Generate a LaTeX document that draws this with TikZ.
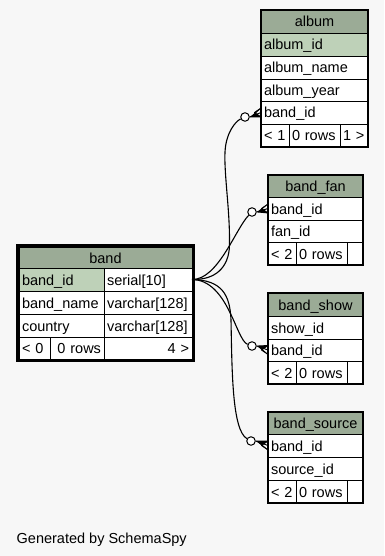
\documentclass[tikz,border=0pt]{standalone}
\usepackage{fontspec}
\setmainfont{Liberation Sans}
\usetikzlibrary{calc}
\definecolor{canvas}{HTML}{F7F7F7}
\definecolor{headgreen}{HTML}{9BAB96}
\definecolor{keygreen}{HTML}{BED1B8}
\newcommand\tabfont{\fontsize{14.5}{17}\selectfont}
% \tcell{style}{name}{x}{y}{width}{height}{text}
\newcommand\tcell[7]{\pgfmathsetmacro\tcw{#5-6}\node[#1, text width=\tcw pt, minimum height=#6pt] (#2) at (#3,#4) {#7};}
% crow's foot between the optional circle and the referencing column
\newcommand\crowfoot[2]{%
  \filldraw[crowline] ($(#1.east)+(1,0)$) -- ($(#2.west)+(0,-4.5)$)
    -- ($(#2.west)+(-6.5,0)$) -- ($(#2.west)+(0,4.5)$) -- cycle;
  \draw[crowline] (#1.east) -- (#2.west);}
\tikzset{
  cell/.style={draw=black, line width=0.9pt, fill=white, anchor=north west,
    inner xsep=3pt, inner ysep=0pt, outer sep=0pt, text height=12pt,
    text depth=1pt, align=left, font=\tabfont},
  headcell/.style={cell, fill=headgreen, align=center},
  keycell/.style={cell, fill=keygreen},
  rcell/.style={cell, align=right},
  frame/.style={draw=black, line width=1.4pt},
  selframe/.style={draw=black, line width=3pt},
  rel/.style={draw=black, line width=1.1pt},
  crowline/.style={draw=black, fill=black, line width=0.9pt, line join=round},
  optional/.style={circle, draw=black, fill=white, line width=1pt,
    minimum size=8.5pt, inner sep=0pt},
}
\begin{document}
\begin{tikzpicture}[x=1pt, y=-1pt]
\useasboundingbox[fill=canvas] (0,0) rectangle (384,556);

% ---------- band (selected table) ----------
\tcell{headcell}{band-head}{19}{247}{173}{21}{band}
\tcell{keycell}{band-band_id}{19}{268}{85}{23}{band\_id}
\tcell{cell}{band-band_id-type}{104}{268}{88}{23}{serial[10]}
\tcell{cell}{band-band_name}{19}{291}{85}{23}{band\_name}
\tcell{cell}{band-band_name-type}{104}{291}{88}{23}{varchar[128]}
\tcell{cell}{band-country}{19}{314}{85}{23}{country}
\tcell{cell}{band-country-type}{104}{314}{88}{23}{varchar[128]}
\tcell{cell}{band-parents}{19}{337}{31}{22}{< 0}
\tcell{rcell}{band-rows}{50}{337}{54}{22}{0 rows}
\tcell{rcell}{band-children}{104}{337}{88}{22}{4 >}

% ---------- optional markers ----------
\node[optional] (album-opt) at (245,117) {};
\node[optional] (band_fan-opt) at (252,212) {};
\node[optional] (band_show-opt) at (252,346) {};
\node[optional] (band_source-opt) at (251,441) {};

% ---------- relationships ----------
\draw[rel] (band-band_id-type.east) .. controls (215,280) and (229,268) .. (229.5,245)
  .. controls (230,210) and (224,175) .. (225,152)
  .. controls (226,132) and (236,121) .. (album-opt);
\draw[rel] (band-band_id-type.east) .. controls (218,280) and (236,228) .. (band_fan-opt);
\draw[rel] (band-band_id-type.east) .. controls (228,280) and (236,340) .. (band_show-opt);
\draw[rel] (band-band_id-type.east) .. controls (222,280) and (230,295) .. (231,320)
  .. controls (232,370) and (232,430) .. (band_source-opt);

\draw[selframe] ($(band-head.north west)+(-1.5,-1.5)$) rectangle ($(band-children.south east)+(1.5,1.5)$);

% ---------- album ----------
\tcell{headcell}{album-head}{261}{10}{107}{23}{album}
\tcell{keycell}{album-album_id}{261}{33}{107}{23}{album\_id}
\tcell{cell}{album-album_name}{261}{56}{107}{23}{album\_name}
\tcell{cell}{album-album_year}{261}{79}{107}{22}{album\_year}
\tcell{cell}{album-band_id}{261}{101}{107}{23}{band\_id}
\tcell{cell}{album-parents}{261}{124}{28}{23}{< 1}
\tcell{cell}{album-rows}{289}{124}{51}{23}{0 rows}
\tcell{cell}{album-children}{340}{124}{28}{23}{1 >}
\draw[frame] (album-head.north west) rectangle (album-children.south east);

% ---------- band_fan ----------
\tcell{headcell}{band_fan-head}{268}{175}{95}{22}{band\_fan}
\tcell{cell}{band_fan-band_id}{268}{197}{95}{23}{band\_id}
\tcell{cell}{band_fan-fan_id}{268}{220}{95}{22}{fan\_id}
\tcell{cell}{band_fan-parents}{268}{242}{28}{23}{< 2}
\tcell{cell}{band_fan-rows}{296}{242}{51}{23}{0 rows}
\tcell{cell}{band_fan-children}{347}{242}{16}{23}{}
\draw[frame] (band_fan-head.north west) rectangle (band_fan-children.south east);

% ---------- band_show ----------
\tcell{headcell}{band_show-head}{268}{293}{95}{23}{band\_show}
\tcell{cell}{band_show-show_id}{268}{316}{95}{23}{show\_id}
\tcell{cell}{band_show-band_id}{268}{339}{95}{22}{band\_id}
\tcell{cell}{band_show-parents}{268}{361}{28}{23}{< 2}
\tcell{cell}{band_show-rows}{296}{361}{51}{23}{0 rows}
\tcell{cell}{band_show-children}{347}{361}{16}{23}{}
\draw[frame] (band_show-head.north west) rectangle (band_show-children.south east);

% ---------- band_source ----------
\tcell{headcell}{band_source-head}{268}{412}{95}{22}{band\_source}
\tcell{cell}{band_source-band_id}{268}{434}{95}{23}{band\_id}
\tcell{cell}{band_source-source_id}{268}{457}{95}{23}{source\_id}
\tcell{cell}{band_source-parents}{268}{480}{28}{23}{< 2}
\tcell{cell}{band_source-rows}{296}{480}{51}{23}{0 rows}
\tcell{cell}{band_source-children}{347}{480}{16}{23}{}
\draw[frame] (band_source-head.north west) rectangle (band_source-children.south east);

% ---------- crow's feet ----------
\crowfoot{album-opt}{album-band_id}
\crowfoot{band_fan-opt}{band_fan-band_id}
\crowfoot{band_show-opt}{band_show-band_id}
\crowfoot{band_source-opt}{band_source-band_id}

\node[anchor=base west, font=\tabfont, inner sep=0pt] (credit) at (16.5,543) {Generated by SchemaSpy};
\end{tikzpicture}
\end{document}
